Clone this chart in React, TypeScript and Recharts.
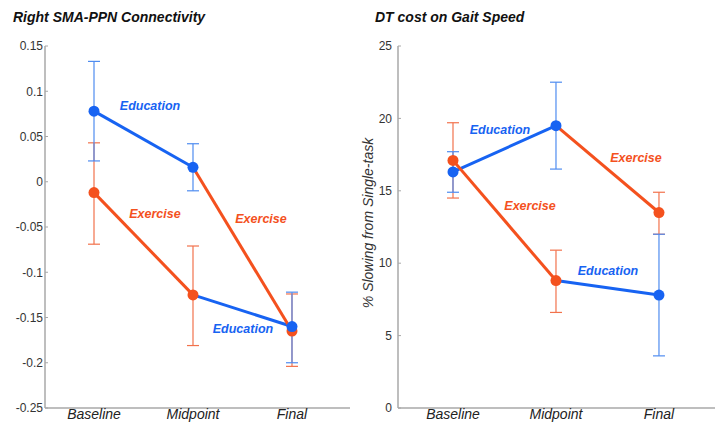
import {
  ComposedChart,
  ErrorBar,
  Label,
  Line,
  ReferenceDot,
  Scatter,
  XAxis,
  YAxis,
} from "recharts";

const PHASES = ["Baseline", "Midpoint", "Final"];

// left panel: right SMA-PPN connectivity
const CONN_BLUE_DOTS = [0.078, 0.016, -0.16];
const CONN_BLUE_LO = [0.023, -0.01, -0.2];
const CONN_BLUE_HI = [0.133, 0.042, -0.122];
const CONN_ORANGE_DOTS = [-0.012, -0.125, -0.165];
const CONN_ORANGE_LO = [-0.069, -0.181, -0.204];
const CONN_ORANGE_HI = [0.043, -0.071, -0.124];
// segments as drawn (the lines cross over at midpoint)
const CONN_BLUE_SEG1 = [0.078, 0.016, null];
const CONN_BLUE_SEG2 = [null, -0.125, -0.16];
const CONN_ORANGE_SEG1 = [-0.012, -0.125, null];
const CONN_ORANGE_SEG2 = [null, 0.016, -0.165];
const CONN_TICKS = [0.15, 0.1, 0.05, 0, -0.05, -0.1, -0.15, -0.2, -0.25];
const CONN_NOTES = [
  { x: 0.566, y: 0.0837, text: "Education", blue: true },
  { x: 0.616, y: -0.0356, text: "Exercise", blue: false },
  { x: 1.687, y: -0.041, text: "Exercise", blue: false },
  { x: 1.505, y: -0.163, text: "Education", blue: true },
];

// right panel: DT cost on gait speed
const GAIT_BLUE_DOTS = [16.3, 19.5, 7.8];
const GAIT_BLUE_LO = [14.9, 16.5, 3.6];
const GAIT_BLUE_HI = [17.7, 22.5, 12.0];
const GAIT_ORANGE_DOTS = [17.1, 8.8, 13.5];
const GAIT_ORANGE_LO = [14.5, 6.6, 12.0];
const GAIT_ORANGE_HI = [19.7, 10.9, 14.9];
const GAIT_BLUE_SEG1 = [16.3, 19.5, null];
const GAIT_BLUE_SEG2 = [null, 8.8, 7.8];
const GAIT_ORANGE_SEG1 = [17.1, 8.8, null];
const GAIT_ORANGE_SEG2 = [null, 19.5, 13.5];
const GAIT_TICKS = [0, 5, 10, 15, 20, 25];
const GAIT_NOTES = [
  { x: 0.456, y: 19.2, text: "Education", blue: true },
  { x: 1.777, y: 17.27, text: "Exercise", blue: false },
  { x: 0.748, y: 13.95, text: "Exercise", blue: false },
  { x: 1.505, y: 9.46, text: "Education", blue: true },
];

const BLUE = "#1763f2";
const ORANGE = "#f4511e";
const BLUE_ERR = "#4f8cf0";
const ORANGE_ERR = "#f2724c";
const AXIS = "#a8a8a8";
const FONT = "'Liberation Sans', Arial, Helvetica, sans-serif";

type Panel = {
  blueDots: number[];
  blueLo: number[];
  blueHi: number[];
  orangeDots: number[];
  orangeLo: number[];
  orangeHi: number[];
  blueSeg1: (number | null)[];
  blueSeg2: (number | null)[];
  orangeSeg1: (number | null)[];
  orangeSeg2: (number | null)[];
};

function buildRows(p: Panel) {
  return PHASES.map((_, i) => ({
    x: i,
    blueDot: p.blueDots[i],
    blueErr: [p.blueDots[i] - p.blueLo[i], p.blueHi[i] - p.blueDots[i]],
    orangeDot: p.orangeDots[i],
    orangeErr: [p.orangeDots[i] - p.orangeLo[i], p.orangeHi[i] - p.orangeDots[i]],
    blueSeg1: p.blueSeg1[i],
    blueSeg2: p.blueSeg2[i],
    orangeSeg1: p.orangeSeg1[i],
    orangeSeg2: p.orangeSeg2[i],
  }));
}

const connRows = buildRows({
  blueDots: CONN_BLUE_DOTS,
  blueLo: CONN_BLUE_LO,
  blueHi: CONN_BLUE_HI,
  orangeDots: CONN_ORANGE_DOTS,
  orangeLo: CONN_ORANGE_LO,
  orangeHi: CONN_ORANGE_HI,
  blueSeg1: CONN_BLUE_SEG1,
  blueSeg2: CONN_BLUE_SEG2,
  orangeSeg1: CONN_ORANGE_SEG1,
  orangeSeg2: CONN_ORANGE_SEG2,
});

const gaitRows = buildRows({
  blueDots: GAIT_BLUE_DOTS,
  blueLo: GAIT_BLUE_LO,
  blueHi: GAIT_BLUE_HI,
  orangeDots: GAIT_ORANGE_DOTS,
  orangeLo: GAIT_ORANGE_LO,
  orangeHi: GAIT_ORANGE_HI,
  blueSeg1: GAIT_BLUE_SEG1,
  blueSeg2: GAIT_BLUE_SEG2,
  orangeSeg1: GAIT_ORANGE_SEG1,
  orangeSeg2: GAIT_ORANGE_SEG2,
});

const dot = (fill: string) => (p: any) =>
  <circle cx={p.cx} cy={p.cy} r={5.5} fill={fill} />;

const note = (text: string, fill: string) => (p: any) =>
  (
    <text
      x={p.cx}
      y={p.cy}
      textAnchor="middle"
      dominantBaseline="central"
      fill={fill}
      fontFamily={FONT}
      fontSize={12.5}
      fontWeight="bold"
      fontStyle="italic"
    >
      {text}
    </text>
  );

function seg(key: string, color: string) {
  return (
    <Line
      dataKey={key}
      stroke={color}
      strokeWidth={3}
      dot={false}
      activeDot={false}
      connectNulls={false}
      isAnimationActive={false}
    />
  );
}

function PanelChart({
  rows,
  width,
  yWidth,
  xDomain,
  yDomain,
  yTicks,
  tickMargin,
  notes,
  yLabel,
}: {
  rows: any[];
  width: number;
  yWidth: number;
  xDomain: [number, number];
  yDomain: [number, number];
  yTicks: number[];
  tickMargin: number;
  notes: { x: number; y: number; text: string; blue: boolean }[];
  yLabel?: string;
}) {
  return (
    <ComposedChart
      width={width}
      height={425}
      data={rows}
      margin={{ top: 46, right: 0, bottom: 0, left: 0 }}
    >
      <XAxis
        dataKey="x"
        type="number"
        domain={xDomain}
        ticks={[0, 1, 2]}
        allowDataOverflow
        height={17}
        tickFormatter={(v: number) => PHASES[v]}
        tick={{ fill: "#222", fontSize: 14, fontStyle: "italic", fontFamily: FONT, dy: -5 }}
        tickLine={false}
        tickMargin={0}
        axisLine={{ stroke: AXIS, strokeWidth: 1.5 }}
      />
      <YAxis
        type="number"
        domain={yDomain}
        ticks={yTicks}
        width={yWidth}
        interval={0}
        tick={{ fill: "#333", fontSize: 12, fontFamily: FONT }}
        tickSize={-3}
        tickMargin={tickMargin}
        tickLine={{ stroke: AXIS }}
        axisLine={{ stroke: AXIS, strokeWidth: 1.5 }}
      >
        {yLabel && (
          <Label
            value={yLabel}
            angle={-90}
            position="center"
            dx={-(yWidth / 2 - 11)}
            dy={-4}
            style={{ fill: "#333", fontSize: 14, fontStyle: "italic", fontFamily: FONT }}
          />
        )}
      </YAxis>
      {seg("blueSeg1", BLUE)}
      {seg("blueSeg2", BLUE)}
      {seg("orangeSeg1", ORANGE)}
      {seg("orangeSeg2", ORANGE)}
      <Scatter dataKey="orangeDot" shape={dot(ORANGE)} isAnimationActive={false}>
        <ErrorBar dataKey="orangeErr" direction="y" width={6} stroke={ORANGE_ERR} strokeWidth={1.2} />
      </Scatter>
      <Scatter dataKey="blueDot" shape={dot(BLUE)} isAnimationActive={false}>
        <ErrorBar dataKey="blueErr" direction="y" width={6} stroke={BLUE_ERR} strokeWidth={1.2} />
      </Scatter>
      {notes.map((n, i) => (
        <ReferenceDot
          key={i}
          x={n.x}
          y={n.y}
          r={0}
          ifOverflow="visible"
          shape={note(n.text, n.blue ? BLUE : ORANGE)}
        />
      ))}
    </ComposedChart>
  );
}

const titleStyle: React.CSSProperties = {
  position: "absolute",
  top: 9,
  fontFamily: FONT,
  fontSize: 14,
  fontWeight: "bold",
  fontStyle: "italic",
  color: "#111",
  whiteSpace: "nowrap",
};

export default function App() {
  return (
    <div
      style={{
        position: "absolute",
        left: 0,
        top: 0,
        width: 715,
        height: 425,
        background: "#fff",
        overflow: "hidden",
      }}
    >
      <div style={{ ...titleStyle, left: 13 }}>Right SMA-PPN Connectivity</div>
      <div style={{ ...titleStyle, left: 375 }}>DT cost on Gait Speed</div>
      <div style={{ position: "absolute", left: 0, top: 0 }}>
        <PanelChart
          rows={connRows}
          width={350}
          yWidth={45}
          xDomain={[-0.495, 2.586]}
          yDomain={[-0.25, 0.15]}
          yTicks={CONN_TICKS}
          tickMargin={5}
          notes={CONN_NOTES}
        />
      </div>
      <div style={{ position: "absolute", left: 357, top: 0 }}>
        <PanelChart
          rows={gaitRows}
          width={358}
          yWidth={41}
          xDomain={[-0.534, 2.544]}
          yDomain={[0, 25]}
          yTicks={GAIT_TICKS}
          tickMargin={9}
          notes={GAIT_NOTES}
          yLabel="% Slowing from Single-task"
        />
      </div>
    </div>
  );
}
